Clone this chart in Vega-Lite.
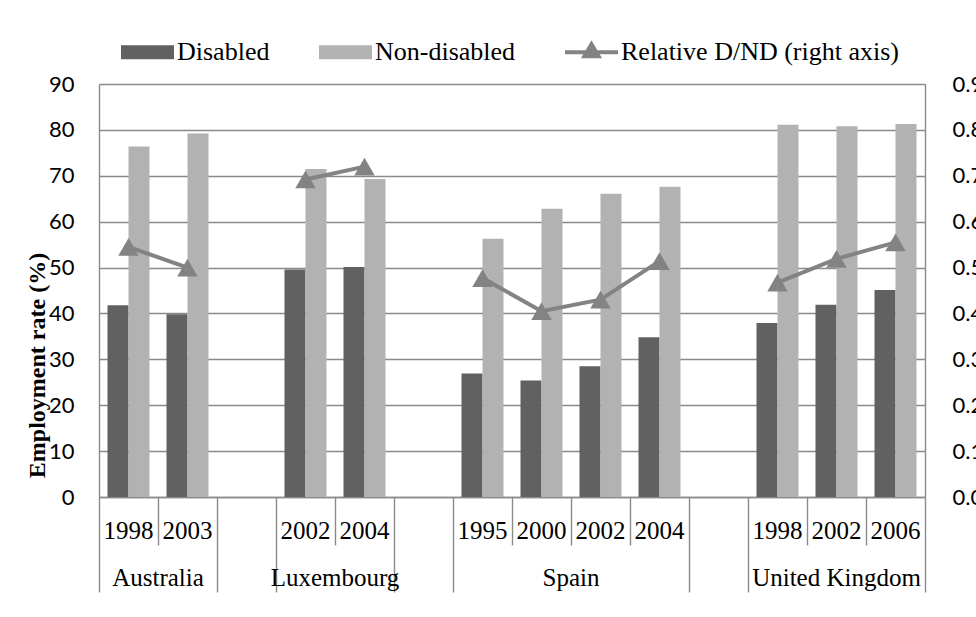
{
  "$schema": "https://vega.github.io/schema/vega-lite/v6.json",
  "width": 826,
  "height": 413,
  "autosize": {"type": "none"},
  "padding": {"left": 99, "top": 84, "right": 51, "bottom": 120},
  "background": "white",
  "config": {
    "view": {"stroke": null},
    "axis": {"domainColor": "#8a8a8a", "domainWidth": 1.4, "tickColor": "#8a8a8a", "tickWidth": 1.4, "gridColor": "#8a8a8a", "gridWidth": 1.4, "labelColor": "black"}
  },
  "datasets": {
    "bars": [
      {"slot": "AU1998", "series": "Disabled", "value": 41.8}, {"slot": "AU1998", "series": "Non-disabled", "value": 76.4},
      {"slot": "AU2003", "series": "Disabled", "value": 39.8}, {"slot": "AU2003", "series": "Non-disabled", "value": 79.2},
      {"slot": "LU2002", "series": "Disabled", "value": 49.6}, {"slot": "LU2002", "series": "Non-disabled", "value": 71.5},
      {"slot": "LU2004", "series": "Disabled", "value": 50.1}, {"slot": "LU2004", "series": "Non-disabled", "value": 69.3},
      {"slot": "ES1995", "series": "Disabled", "value": 26.9}, {"slot": "ES1995", "series": "Non-disabled", "value": 56.3},
      {"slot": "ES2000", "series": "Disabled", "value": 25.4}, {"slot": "ES2000", "series": "Non-disabled", "value": 62.8},
      {"slot": "ES2002", "series": "Disabled", "value": 28.5}, {"slot": "ES2002", "series": "Non-disabled", "value": 66.1},
      {"slot": "ES2004", "series": "Disabled", "value": 34.8}, {"slot": "ES2004", "series": "Non-disabled", "value": 67.6},
      {"slot": "UK1998", "series": "Disabled", "value": 37.9}, {"slot": "UK1998", "series": "Non-disabled", "value": 81.1},
      {"slot": "UK2002", "series": "Disabled", "value": 41.9}, {"slot": "UK2002", "series": "Non-disabled", "value": 80.8},
      {"slot": "UK2006", "series": "Disabled", "value": 45.1}, {"slot": "UK2006", "series": "Non-disabled", "value": 81.3}
    ],
    "ratio": [
      {"slot": "AU1998", "country": "Australia", "ratio": 0.545},
      {"slot": "AU2003", "country": "Australia", "ratio": 0.5},
      {"slot": "LU2002", "country": "Luxembourg", "ratio": 0.692},
      {"slot": "LU2004", "country": "Luxembourg", "ratio": 0.72},
      {"slot": "ES1995", "country": "Spain", "ratio": 0.477},
      {"slot": "ES2000", "country": "Spain", "ratio": 0.405},
      {"slot": "ES2002", "country": "Spain", "ratio": 0.43},
      {"slot": "ES2004", "country": "Spain", "ratio": 0.514},
      {"slot": "UK1998", "country": "United Kingdom", "ratio": 0.467},
      {"slot": "UK2002", "country": "United Kingdom", "ratio": 0.519},
      {"slot": "UK2006", "country": "United Kingdom", "ratio": 0.555}
    ],
    "slots": [
      {"slot": "AU1998"}, {"slot": "AU2003"}, {"slot": "g1"}, {"slot": "LU2002"}, {"slot": "LU2004"}, {"slot": "g2"},
      {"slot": "ES1995"}, {"slot": "ES2000"}, {"slot": "ES2002"}, {"slot": "ES2004"}, {"slot": "g3"},
      {"slot": "UK1998"}, {"slot": "UK2002"}, {"slot": "UK2006"}
    ]
  },
  "layer": [
    {
      "data": {"name": "bars"},
      "mark": {"type": "bar"},
      "encoding": {
        "x": {
          "field": "slot", "type": "nominal",
          "scale": {"type": "band", "domain": ["AU1998","AU2003","g1","LU2002","LU2004","g2","ES1995","ES2000","ES2002","ES2004","g3","UK1998","UK2002","UK2006"], "paddingInner": 0, "paddingOuter": 0},
          "axis": {"orient": "bottom", "title": null, "ticks": false, "domain": true, "grid": false, "labelAngle": 0,
            "labelExpr": "length(datum.value) > 2 ? substring(datum.value, 2) : ''",
            "labelFont": "Liberation Serif", "labelFontSize": 25, "labelPadding": 21, "labelOverlap": false}
        },
        "xOffset": {"field": "series", "type": "nominal", "scale": {"domain": ["Disabled", "Non-disabled"], "paddingInner": 0, "paddingOuter": 0.405}},
        "y": {
          "field": "value", "type": "quantitative",
          "scale": {"domain": [0, 90], "nice": false},
          "axis": {"orient": "left", "values": [0,10,20,30,40,50,60,70,80,90], "grid": true, "ticks": false, "domain": true,
            "labelFont": "Lato", "labelFontSize": 22, "labelPadding": 25,
            "title": "Employment rate (%)", "titleFont": "Liberation Serif", "titleFontSize": 24, "titleFontWeight": "bold", "titleColor": "black",
            "titleAngle": 270, "titleX": -62, "titleY": 281, "titleAlign": "center", "titleBaseline": "middle"}
        },
        "color": {
          "field": "series", "type": "nominal",
          "scale": {"domain": ["Disabled", "Non-disabled", "Relative D/ND (right axis)"], "range": ["#616161", "#b2b2b2", "#838383"]},
          "legend": {
            "orient": "none", "legendX": 22, "legendY": -58.5, "direction": "horizontal", "title": null, "padding": 0,
            "symbolSize": 2809, "symbolStrokeWidth": 0, "labelFont": "Liberation Serif", "labelFontSize": 26, "labelColor": "black",
            "labelOffset": 3, "columnPadding": 49, "labelLimit": 500,
            "encode": {"symbols": {"update": {"shape": {"signal": "datum.value == 'Relative D/ND (right axis)' ? 'M-1,-0.075L1,-0.075L1,0.075L-1,0.075Z M0,-0.45L0.4,0.23L-0.4,0.23Z' : 'M-1,-0.26L1,-0.26L1,0.26L-1,0.26Z'"}, "strokeWidth": {"value": 0}}}}
          }
        }
      }
    },
    {
      "data": {"name": "ratio"},
      "layer": [
        {
          "mark": {"type": "line", "color": "#838383", "strokeWidth": 4},
          "encoding": {
            "x": {"field": "slot", "type": "nominal", "scale": {"type": "band", "domain": ["AU1998","AU2003","g1","LU2002","LU2004","g2","ES1995","ES2000","ES2002","ES2004","g3","UK1998","UK2002","UK2006"], "paddingInner": 0, "paddingOuter": 0}, "axis": null},
            "y": {"field": "ratio", "type": "quantitative", "scale": {"domain": [0, 0.9], "nice": false},
              "axis": {"orient": "right", "values": [0,0.1,0.2,0.3,0.4,0.5,0.6,0.7,0.8,0.9], "format": ".1f", "grid": false, "ticks": false, "domain": true,
                "labelFont": "Lato", "labelFontSize": 22, "labelPadding": 27, "title": null}},
            "detail": {"field": "country", "type": "nominal"}
          }
        },
        {
          "mark": {"type": "point", "shape": "triangle-up", "filled": true, "size": 420, "color": "#838383", "opacity": 1},
          "encoding": {
            "x": {"field": "slot", "type": "nominal", "scale": {"type": "band", "domain": ["AU1998","AU2003","g1","LU2002","LU2004","g2","ES1995","ES2000","ES2002","ES2004","g3","UK1998","UK2002","UK2006"], "paddingInner": 0, "paddingOuter": 0}, "axis": null},
            "y": {"field": "ratio", "type": "quantitative", "scale": {"domain": [0, 0.9], "nice": false}}
          }
        }
      ]
    },
    {
      "data": {"name": "slots"},
      "mark": {"type": "point", "opacity": 0},
      "encoding": {
        "x": {"field": "slot", "type": "nominal", "scale": {"type": "band", "domain": ["AU1998","AU2003","g1","LU2002","LU2004","g2","ES1995","ES2000","ES2002","ES2004","g3","UK1998","UK2002","UK2006"], "paddingInner": 0, "paddingOuter": 0},
          "axis": {"orient": "bottom", "title": null, "bandPosition": 0, "values": ["AU1998","g1","LU2002","g2","ES1995","g3","UK1998"], "labels": false, "domain": false, "grid": false, "ticks": true, "tickSize": 95}}
      }
    },
    {
      "data": {"name": "slots"},
      "mark": {"type": "point", "opacity": 0},
      "encoding": {
        "x": {"field": "slot", "type": "nominal", "scale": {"type": "band", "domain": ["AU1998","AU2003","g1","LU2002","LU2004","g2","ES1995","ES2000","ES2002","ES2004","g3","UK1998","UK2002","UK2006"], "paddingInner": 0, "paddingOuter": 0},
          "axis": {"orient": "bottom", "title": null, "bandPosition": 0, "values": ["AU2003","LU2004","ES2000","ES2002","ES2004","UK2002","UK2006"], "labels": false, "domain": false, "grid": false, "ticks": true, "tickSize": 48}}
      }
    },
    {
      "data": {"name": "slots"},
      "mark": {"type": "point", "opacity": 0},
      "encoding": {
        "x": {"field": "slot", "type": "nominal", "scale": {"type": "band", "domain": ["AU1998","AU2003","g1","LU2002","LU2004","g2","ES1995","ES2000","ES2002","ES2004","g3","UK1998","UK2002","UK2006"], "paddingInner": 0, "paddingOuter": 0},
          "axis": {"orient": "bottom", "title": null, "bandPosition": 1, "values": ["UK2006"], "labels": false, "domain": false, "grid": false, "ticks": true, "tickSize": 95}}
      }
    },
    {
      "data": {"name": "slots"},
      "mark": {"type": "point", "opacity": 0},
      "encoding": {
        "x": {"field": "slot", "type": "nominal", "scale": {"type": "band", "domain": ["AU1998","AU2003","g1","LU2002","LU2004","g2","ES1995","ES2000","ES2002","ES2004","g3","UK1998","UK2002","UK2006"], "paddingInner": 0, "paddingOuter": 0},
          "axis": {"orient": "bottom", "title": null, "values": ["AU1998","LU2002","ES2000"], "ticks": false, "domain": false, "grid": false, "labelAngle": 0, "labelOverlap": false,
            "labelExpr": "datum.value == 'AU1998' ? 'Australia' : datum.value == 'LU2002' ? 'Luxembourg' : 'Spain'",
            "labelOffset": 29.5,
            "labelFont": "Liberation Serif", "labelFontSize": 25, "labelPadding": 68}}
      }
    },
    {
      "data": {"name": "slots"},
      "mark": {"type": "point", "opacity": 0},
      "encoding": {
        "x": {"field": "slot", "type": "nominal", "scale": {"type": "band", "domain": ["AU1998","AU2003","g1","LU2002","LU2004","g2","ES1995","ES2000","ES2002","ES2004","g3","UK1998","UK2002","UK2006"], "paddingInner": 0, "paddingOuter": 0},
          "axis": {"orient": "bottom", "title": null, "values": ["UK2002"], "ticks": false, "domain": false, "grid": false, "labelAngle": 0, "labelOverlap": false,
            "labelExpr": "'United Kingdom'",
            "labelFont": "Liberation Serif", "labelFontSize": 25, "labelPadding": 68}}
      }
    }
  ],
  "resolve": {"scale": {"y": "independent"}, "axis": {"x": "independent"}}
}
